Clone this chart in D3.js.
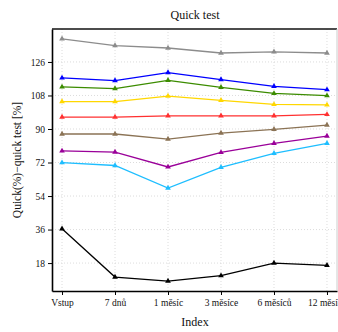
<!DOCTYPE html>
<html>
<head>
<meta charset="utf-8">
<script src="https://cdn.jsdelivr.net/npm/d3@7"></script>
<style>
  body { margin: 0; background: #fff; }
  svg text { font-family: "Liberation Serif", "Times New Roman", "DejaVu Serif", serif; }
</style>
</head>
<body>
<svg id="chart" width="338" height="332"></svg>
<script>
// categories on the x axis
const categories = ["Vstup", "7 dnů", "1 měsíc", "3 měsíce", "6 měsíců", "12 měsíců"];
const yTicks = [18, 36, 54, 72, 90, 108, 126];

// one array per line
const grayValues   = [138.4, 134.8, 133.5, 130.8, 131.4, 130.8];
const blueValues   = [117.4, 116.0, 120.3, 116.5, 112.9, 111.1];
const greenValues  = [112.6, 111.7, 116.1, 112.4, 109.1, 107.9];
const yellowValues = [104.7, 104.7, 107.7, 105.4, 103.2, 102.9];
const redValues    = [96.4, 96.4, 97.1, 97.1, 97.1, 97.8];
const brownValues  = [87.3, 87.3, 84.6, 87.8, 89.8, 92.1];
const purpleValues = [78.2, 77.6, 69.6, 77.4, 82.3, 86.2];
const cyanValues   = [71.9, 70.4, 58.3, 69.4, 76.9, 82.3];
const blackValues  = [36.4, 10.5, 8.3, 11.2, 18.0, 16.8];

const series = [
  { color: "#8c8c8c", values: grayValues },
  { color: "#0000ff", values: blueValues },
  { color: "#3c8c00", values: greenValues },
  { color: "#ffd700", values: yellowValues },
  { color: "#ff3030", values: redValues },
  { color: "#8b7355", values: brownValues },
  { color: "#9a0099", values: purpleValues },
  { color: "#1ebeff", values: cyanValues },
  { color: "#000000", values: blackValues }
];

const svg = d3.select("#chart");
const mLeft = 52, mRight = 337, mTop = 29, mBottom = 291;

const x = d3.scaleLinear().domain([0.811, 6.189]).range([mLeft, mRight]);
const y = d3.scaleLinear().domain([3.0, 143.7]).range([mBottom, mTop]);

// grid
const grid = svg.append("g");
grid.selectAll(".gx").data(categories).join("line")
  .attr("x1", (d, i) => x(i + 1)).attr("x2", (d, i) => x(i + 1))
  .attr("y1", mTop).attr("y2", mBottom)
  .attr("stroke", "#d3d3d3").attr("stroke-width", 0.8).attr("stroke-dasharray", "1,2");
grid.selectAll(".gy").data(yTicks).join("line")
  .attr("x1", mLeft).attr("x2", mRight)
  .attr("y1", d => y(d)).attr("y2", d => y(d))
  .attr("stroke", "#d3d3d3").attr("stroke-width", 0.8).attr("stroke-dasharray", "1,2");

// axes
const xAxis = svg.append("g")
  .attr("transform", `translate(0,${mBottom})`)
  .call(d3.axisBottom(x).tickValues(d3.range(1, categories.length + 1))
    .tickFormat(d => categories[d - 1]).tickSize(4).tickSizeOuter(0));
const yAxis = svg.append("g")
  .attr("transform", `translate(${mLeft},0)`)
  .call(d3.axisLeft(y).tickValues(yTicks).tickSize(4).tickSizeOuter(0));
[xAxis, yAxis].forEach(a => {
  a.attr("font-family", null);
  a.select(".domain").attr("stroke", "#000").attr("stroke-width", 1.6);
  a.selectAll(".tick line").attr("stroke", "#000");
  a.selectAll(".tick text").attr("font-size", 9.5).attr("fill", "#111");
});
xAxis.selectAll(".tick text").attr("dy", "0.85em");

// frame top and right
svg.append("line").attr("x1", mLeft).attr("x2", mRight).attr("y1", mTop).attr("y2", mTop)
  .attr("stroke", "#111").attr("stroke-width", 1.6);
svg.append("line").attr("x1", mRight).attr("x2", mRight).attr("y1", mTop).attr("y2", mBottom)
  .attr("stroke", "#ccc").attr("stroke-width", 1);

// lines and markers
const line = d3.line().x((d, i) => x(i + 1)).y(d => y(d));
const tri = d3.symbol().type(d3.symbolTriangle).size(14);
series.forEach(s => {
  svg.append("path").datum(s.values)
    .attr("d", line).attr("fill", "none")
    .attr("stroke", s.color).attr("stroke-width", 1.3);
  svg.append("g").selectAll("path").data(s.values).join("path")
    .attr("d", tri)
    .attr("transform", (d, i) => `translate(${x(i + 1)},${y(d)})`)
    .attr("fill", s.color);
});

// labels
svg.append("text").attr("x", 195).attr("y", 19).attr("text-anchor", "middle")
  .attr("font-size", 12).attr("fill", "#111").text("Quick test");
svg.append("text").attr("x", 195).attr("y", 326).attr("text-anchor", "middle")
  .attr("font-size", 12).attr("fill", "#111").text("Index");
svg.append("text").attr("transform", "translate(21,160) rotate(-90)")
  .attr("text-anchor", "middle").attr("font-size", 11.5).attr("fill", "#111")
  .text("Quick(%)−quick test [%]");
</script>
</body>
</html>
